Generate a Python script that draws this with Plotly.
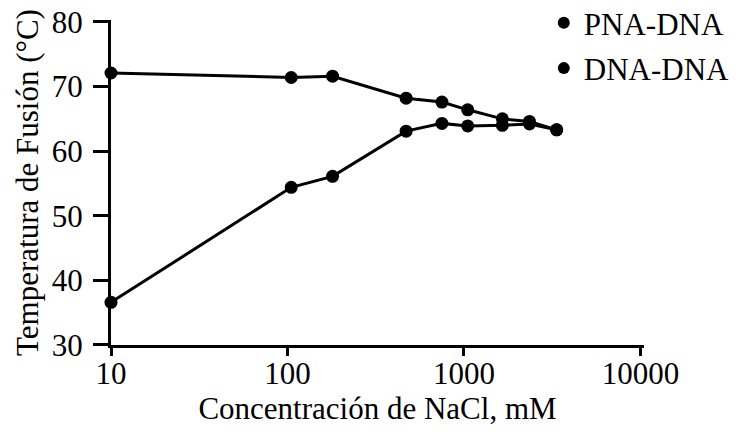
import plotly.graph_objects as go

conc = [10, 105, 180, 470, 750, 1050, 1650, 2350, 3350]
pna_dna = [72.1, 71.4, 71.6, 68.2, 67.6, 66.4, 65.0, 64.6, 63.3]
dna_dna = [36.6, 54.4, 56.1, 63.1, 64.3, 63.9, 64.0, 64.2, 63.3]
series_names = ["PNA-DNA", "DNA-DNA"]
x_ticks = [10, 100, 1000, 10000]
y_ticks = [30, 40, 50, 60, 70, 80]

FONT = "Liberation Serif"
FS = 31
fig = go.Figure()
for vals in (pna_dna, dna_dna):
    fig.add_trace(go.Scatter(x=conc, y=vals, mode="lines+markers",
                             line=dict(color="black", width=3),
                             marker=dict(color="black", size=13),
                             showlegend=False, cliponaxis=False))
for i, name in enumerate(series_names):
    fig.add_trace(go.Scatter(x=[None], y=[None], mode="markers", name=name,
                             legendgroup=f"g{i}",
                             marker=dict(color="black", size=13)))

fig.update_layout(
    width=736, height=434,
    margin=dict(l=111, r=92, t=2, b=89, autoexpand=False),
    paper_bgcolor="white", plot_bgcolor="white",
    font=dict(family=FONT, size=FS, color="black"),
    legend=dict(x=0.812, y=1.017, xanchor="left", yanchor="top",
                font=dict(family=FONT, size=FS), itemsizing="constant",
                tracegroupgap=2, bgcolor="rgba(0,0,0,0)"),
    xaxis=dict(type="log", range=[1, 4.02], tickvals=x_ticks,
               ticktext=[str(v) for v in x_ticks], automargin=False,
               ticklabelstandoff=-9,
               showline=True, linecolor="black", linewidth=3,
               ticks="outside", ticklen=8, tickwidth=3, tickcolor="black",
               showgrid=False, zeroline=False,
               title=dict(text="Concentración de NaCl, mM", standoff=0,
                          font=dict(family=FONT, size=FS))),
    yaxis=dict(range=[30, 80.3], tickvals=y_ticks, domain=[0, 0.9475],
               automargin=False, ticklabelstandoff=4,
               showline=True, linecolor="black", linewidth=3,
               ticks="outside", ticklen=15, tickwidth=3, tickcolor="black",
               showgrid=False, zeroline=False,
               title=dict(text="Temperatura de Fusión (°C)", standoff=4,
                          font=dict(family=FONT, size=FS))),
)
fig.write_html("out.html", config={"displayModeBar": False},
               post_script="document.body.style.margin='0';")
